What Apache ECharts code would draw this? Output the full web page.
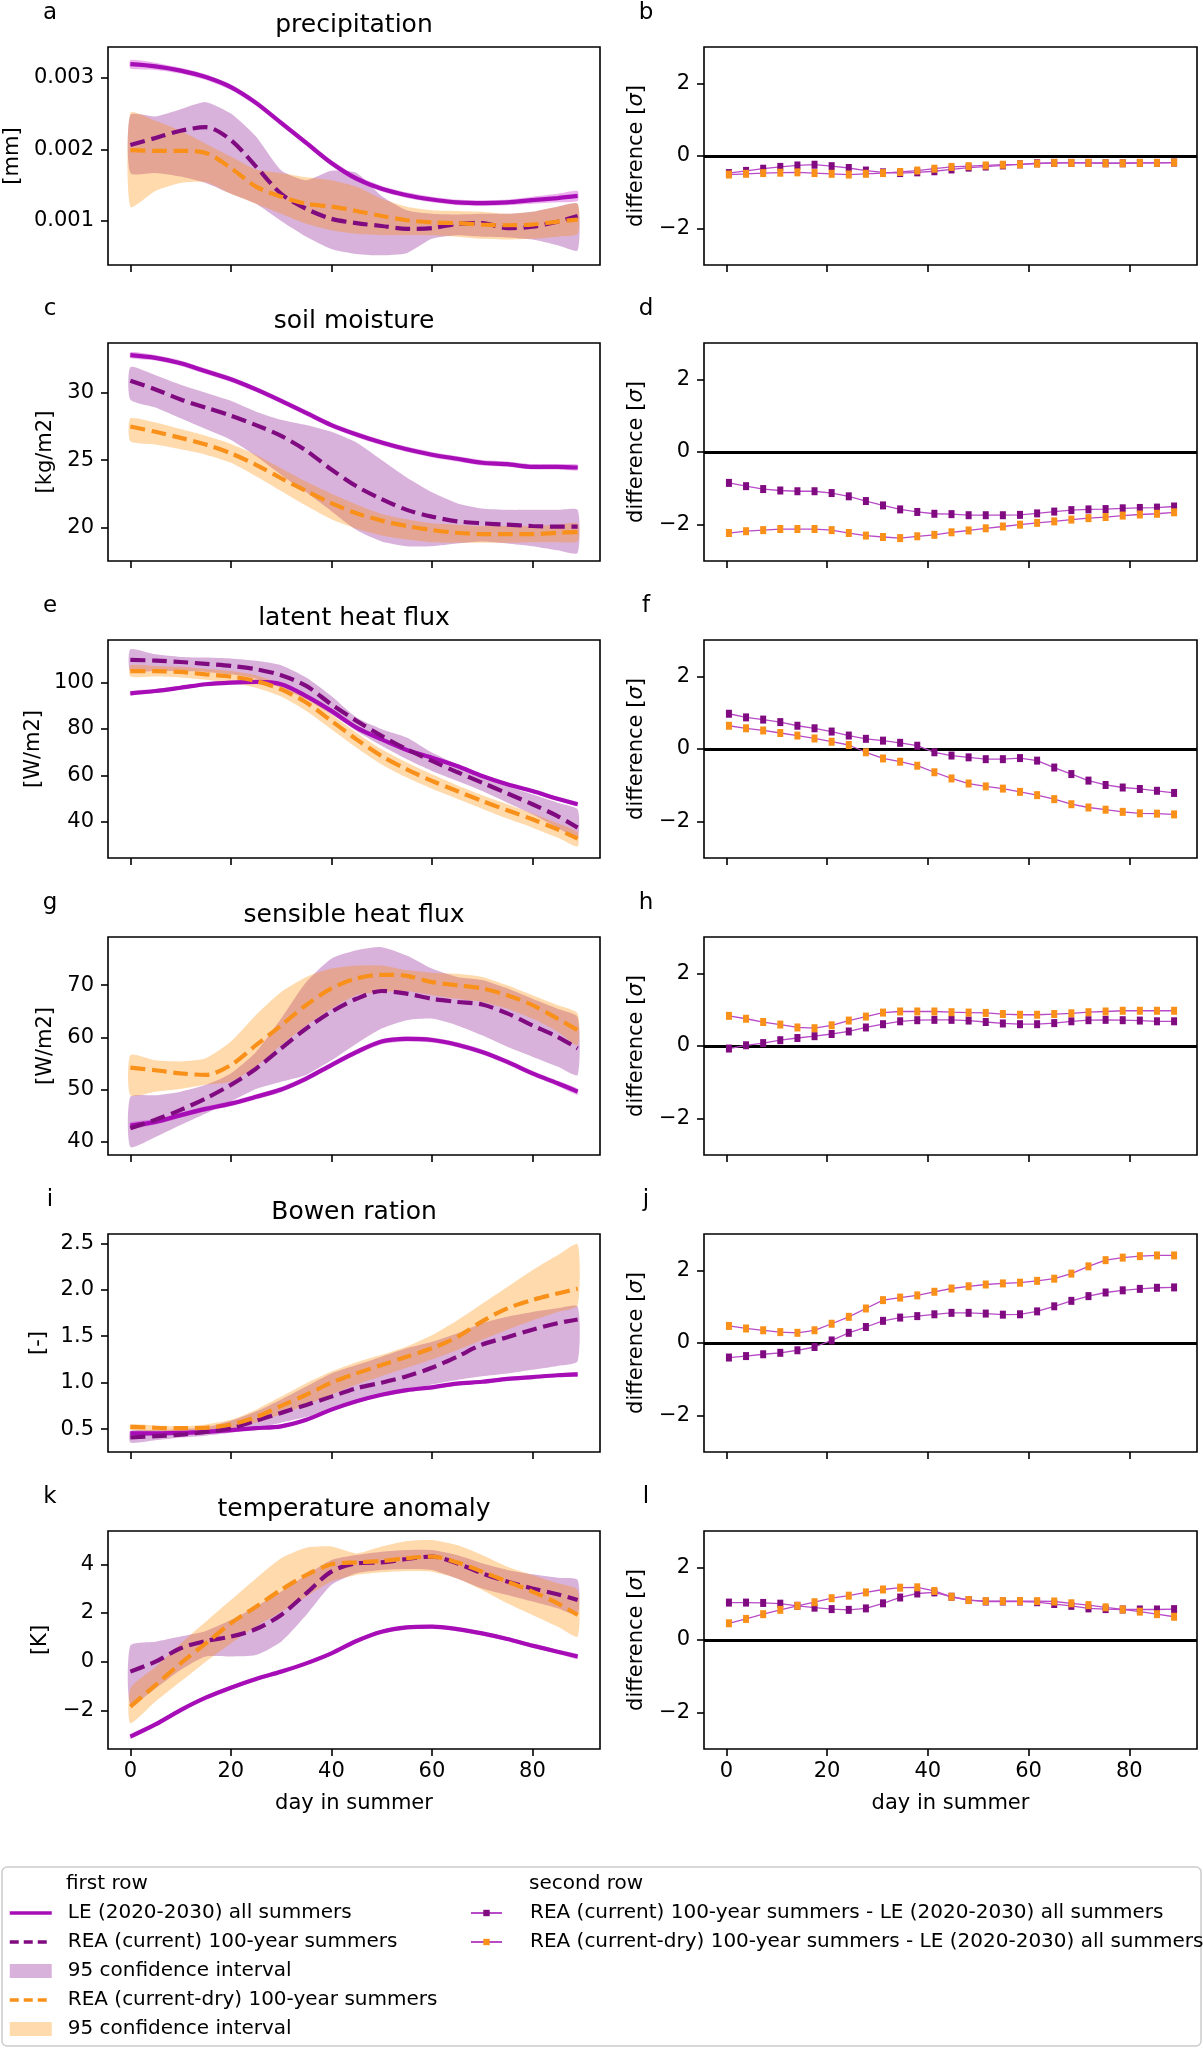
<!DOCTYPE html>
<html><head><meta charset="utf-8">
<script src="https://cdn.jsdelivr.net/npm/echarts@6/dist/echarts.min.js"></script>
<style>html,body{margin:0;padding:0;background:#fff}#c{width:1203px;height:2048px}</style>
</head><body><div id="c"></div>
<script>
// ---------------- data ----------------
const DAYS = [0,5,10,15,20,25,30,35,40,45,50,55,60,65,70,75,80,85,89];
const DIFF_DAYS = [0.5,3.9,7.3,10.7,14.1,17.5,20.9,24.3,27.7,31.1,34.5,37.9,41.3,44.7,48.1,51.5,54.9,58.3,61.7,65.1,68.5,71.9,75.3,78.7,82.1,85.5,88.9];
const X_TICKS = [0,20,40,60,80];
const DIFF_TICKS = [-2,0,2];

const TITLES = ['precipitation','soil moisture','latent heat flux','sensible heat flux','Bowen ration','temperature anomaly'];
const UNITS = ['[mm]','[kg/m2]','[W/m2]','[W/m2]','[-]','[K]'];
const LETTERS_LEFT = ['a','c','e','g','i','k'];
const LETTERS_RIGHT = ['b','d','f','h','j','l'];
const Y_TICKS = [[0.001,0.002,0.003],[20,25,30],[40,60,80,100],[40,50,60,70],[0.5,1.0,1.5,2.0,2.5],[-2,0,2,4]];
const Y_MIN = [0.000385,17.5,24.3,37.45,0.254,-3.59];
const Y_MAX = [0.00343,33.7,118.4,79.25,2.6,5.37];

const precipLE = [0.00319,0.00316,0.0031,0.00301,0.00287,0.00265,0.00237,0.00209,0.00181,0.00159,0.00145,0.00136,0.0013,0.00126,0.00125,0.00126,0.00129,0.00132,0.00135];
const precipLEspread = [0.00006,0.00005,0.00004,0.00004,0.00004,0.00004,0.00004,0.00004,0.00004,0.00004,0.00004,0.00004,0.00004,0.00004,0.00004,0.00004,0.00005,0.00006,0.00007];
const precipCur = [0.00206,0.00216,0.00226,0.00231,0.00213,0.00176,0.00138,0.00117,0.00103,0.00097,0.00093,0.00089,0.0009,0.00096,0.00097,0.0009,0.00092,0.00099,0.00107];
const precipCurLo = [0.00167,0.00167,0.00162,0.00153,0.00138,0.00124,0.001,0.00078,0.00061,0.00054,0.00052,0.00055,0.00075,0.0008,0.00078,0.00077,0.00074,0.00066,0.00059];
const precipCurHi = [0.00248,0.00246,0.00256,0.00266,0.0025,0.00218,0.00171,0.00157,0.0017,0.00167,0.00135,0.00115,0.0011,0.00109,0.0011,0.0011,0.00113,0.0012,0.00124];
const precipDry = [0.00199,0.00198,0.00198,0.00195,0.00174,0.00148,0.00134,0.00124,0.0012,0.00114,0.00107,0.00101,0.00098,0.00097,0.00095,0.00094,0.00095,0.00099,0.00102];
const precipDryLo = [0.0012,0.00142,0.00153,0.00154,0.00138,0.00124,0.0011,0.00096,0.00087,0.00082,0.0008,0.0008,0.0008,0.00078,0.00075,0.00074,0.00075,0.00078,0.00082];
const precipDryHi = [0.00251,0.0024,0.00226,0.00208,0.0019,0.00172,0.00167,0.00161,0.00157,0.00148,0.00131,0.0012,0.00115,0.00114,0.00113,0.0011,0.00113,0.0012,0.00124];
const precipDiffCur = [-0.47,-0.41,-0.35,-0.30,-0.26,-0.24,-0.28,-0.33,-0.40,-0.45,-0.47,-0.45,-0.42,-0.37,-0.32,-0.29,-0.26,-0.23,-0.20,-0.19,-0.19,-0.19,-0.20,-0.20,-0.19,-0.19,-0.18];
const precipDiffDry = [-0.51,-0.49,-0.47,-0.46,-0.45,-0.47,-0.49,-0.51,-0.49,-0.47,-0.44,-0.40,-0.35,-0.30,-0.28,-0.26,-0.24,-0.23,-0.21,-0.19,-0.19,-0.19,-0.20,-0.20,-0.19,-0.19,-0.18];

const soilLE = [32.8,32.6,32.2,31.6,31.0,30.25,29.4,28.5,27.6,26.9,26.3,25.8,25.4,25.1,24.8,24.7,24.5,24.5,24.45];
const soilLEspread = [0.22,0.2,0.2,0.2,0.2,0.2,0.2,0.2,0.2,0.2,0.2,0.2,0.2,0.2,0.2,0.2,0.2,0.2,0.22];
const soilCur = [30.9,30.25,29.5,28.9,28.3,27.6,26.8,25.7,24.3,23.05,22.1,21.3,20.8,20.45,20.3,20.2,20.1,20.05,20.05];
const soilCurLo = [29.5,28.9,28.1,27.3,26.5,25.3,23.9,22.6,21.2,19.8,18.95,18.6,18.6,18.8,18.95,18.8,18.6,18.3,18.1];
const soilCurHi = [31.9,31.3,30.6,30.0,29.4,28.6,28.0,27.6,27.1,26.3,25.0,23.7,22.6,21.8,21.4,21.3,21.3,21.3,21.3];
const soilDry = [27.5,27.1,26.65,26.15,25.5,24.65,23.65,22.7,21.8,21.05,20.5,20.1,19.8,19.6,19.5,19.5,19.5,19.6,19.65];
const soilDryLo = [26.4,26.15,25.8,25.4,24.8,23.8,22.7,21.6,20.6,19.9,19.4,19.1,18.9,18.85,18.85,18.85,18.9,18.9,18.95];
const soilDryHi = [28.1,27.8,27.3,26.8,26.2,25.4,24.4,23.4,22.5,21.7,21.0,20.6,20.3,20.2,20.1,20.1,20.1,20.2,20.3];
const soilDiffCur = [-0.85,-0.94,-1.02,-1.06,-1.08,-1.08,-1.13,-1.22,-1.35,-1.47,-1.58,-1.65,-1.70,-1.71,-1.74,-1.74,-1.74,-1.73,-1.69,-1.64,-1.60,-1.58,-1.57,-1.55,-1.54,-1.53,-1.50];
const soilDiffDry = [-2.23,-2.18,-2.15,-2.12,-2.12,-2.12,-2.15,-2.23,-2.30,-2.34,-2.37,-2.32,-2.28,-2.21,-2.16,-2.10,-2.05,-2.00,-1.95,-1.91,-1.86,-1.82,-1.79,-1.75,-1.72,-1.70,-1.66];

const latLE = [95.4,96.4,97.8,99.3,100,100.3,99.3,94.2,87.8,80.6,75.5,70.9,67.6,64.0,59.7,56.1,53.2,49.9,47.5];
const latLEspread = [0.9,0.8,0.8,0.8,0.8,0.8,0.8,0.8,0.8,0.8,0.8,0.8,0.8,0.8,0.8,0.8,0.8,0.8,0.9];
const latCur = [109.8,109.5,108.9,108.1,107.2,105.8,103.2,98.6,90.6,83.5,77.0,71.2,66.2,61.4,56.8,52.2,47.5,42.4,37.4];
const latCurLo = [105,105,105,104.6,103.6,101.7,97.8,92.8,86.3,79.1,72.7,66.9,61.9,57.6,53.2,48.2,43.2,37.4,33.1];
const latCurHi = [114.4,112.2,111.1,110.8,110.4,109.4,107.5,102.2,94.2,84.9,79.9,76.3,69.8,64.7,59.7,55.4,51.8,48.2,45.3];
const latDry = [105,105,104.6,103.6,102.6,100.7,97.1,91.4,83.5,75.5,68.3,62.6,57.6,53.2,48.9,44.9,41.0,36.7,32.7];
const latDryLo = [102.6,102.6,102.2,101.2,100,97.8,94,87.8,79.9,71.9,64.7,59,54.2,49.9,45.6,41.3,37.4,33.1,29.2];
const latDryHi = [107.5,107.2,106.8,106,105,103.2,99.6,94,86.3,78.4,71.2,65.5,60.4,55.7,51.4,47.5,43.5,39.3,35.5];
const latDiffCur = [0.97,0.87,0.81,0.74,0.64,0.57,0.48,0.37,0.28,0.23,0.17,0.09,-0.09,-0.18,-0.23,-0.28,-0.28,-0.25,-0.32,-0.51,-0.69,-0.87,-0.99,-1.06,-1.10,-1.15,-1.21];
const latDiffDry = [0.64,0.57,0.51,0.44,0.37,0.29,0.20,0.11,-0.09,-0.26,-0.35,-0.46,-0.64,-0.81,-0.95,-1.03,-1.09,-1.18,-1.27,-1.38,-1.52,-1.61,-1.67,-1.73,-1.77,-1.78,-1.80];

const sensLE = [43.1,43.8,45.1,46.3,47.3,48.6,50.0,52.1,54.7,57.2,59.2,59.7,59.5,58.6,57.2,55.3,53.1,51.2,49.6];
const sensLEspread = [0.6,0.5,0.5,0.5,0.5,0.5,0.5,0.5,0.5,0.5,0.5,0.5,0.5,0.5,0.5,0.5,0.5,0.5,0.6];
const sensCur = [42.6,44.2,46.1,48.3,50.9,54.0,57.9,61.7,64.9,67.4,68.9,68.4,67.4,66.8,66.3,64.6,62.3,60.1,57.9];
const sensCurLo = [39.0,40.9,43.2,45.4,47.7,50.1,51.5,52.8,55.6,58.8,61.7,63.3,63.6,62.3,60.4,58.2,56.3,54.4,52.8];
const sensCurHi = [48.6,48.9,49.6,50.9,53.1,57.2,63.6,70.6,75.1,76.7,77.3,75.7,73.2,71.6,71.0,69.4,67.4,65.5,63.9];
const sensDry = [54.2,53.7,53.1,52.8,54.7,58.5,62.3,66.2,69.4,71.3,72.0,71.8,70.6,70.0,69.4,68.1,66.2,63.6,61.4];
const sensDryLo = [48.9,49.6,50.1,50.9,51.5,54.4,58.5,62.3,65.5,68.1,68.7,68.9,68.1,67.4,66.8,65.5,63.6,61.1,58.5];
const sensDryHi = [56.6,55.6,55.4,56.0,59.2,64.3,68.7,71.6,73.2,73.8,73.8,72.9,72.4,72.2,71.6,70.0,68.1,66.2,64.6];
const sensDiffCur = [-0.07,0.02,0.08,0.16,0.22,0.27,0.33,0.40,0.51,0.60,0.68,0.71,0.72,0.72,0.70,0.66,0.62,0.60,0.60,0.63,0.68,0.71,0.72,0.71,0.70,0.68,0.68];
const sensDiffDry = [0.83,0.75,0.66,0.59,0.51,0.49,0.57,0.70,0.81,0.92,0.95,0.95,0.95,0.93,0.92,0.91,0.88,0.86,0.86,0.88,0.90,0.93,0.95,0.97,0.97,0.97,0.97];

const bowLE = [0.454,0.454,0.46,0.47,0.49,0.51,0.53,0.60,0.71,0.80,0.87,0.92,0.95,0.99,1.01,1.04,1.06,1.08,1.09];
const bowLEspread = [0.025,0.02,0.02,0.02,0.02,0.02,0.02,0.02,0.02,0.02,0.02,0.02,0.02,0.02,0.02,0.02,0.02,0.02,0.025];
const bowCur = [0.41,0.425,0.44,0.47,0.51,0.59,0.675,0.76,0.85,0.94,1.0,1.07,1.16,1.28,1.41,1.49,1.57,1.64,1.68];
const bowCurLo = [0.355,0.38,0.41,0.43,0.46,0.51,0.57,0.63,0.71,0.80,0.87,0.92,0.98,1.03,1.07,1.10,1.14,1.18,1.23];
const bowCurHi = [0.48,0.49,0.50,0.52,0.59,0.69,0.82,0.96,1.10,1.19,1.28,1.37,1.44,1.53,1.64,1.71,1.76,1.80,1.82];
const bowDry = [0.525,0.515,0.51,0.515,0.55,0.63,0.75,0.87,1.0,1.10,1.19,1.28,1.37,1.49,1.66,1.80,1.89,1.96,2.01];
const bowDryLo = [0.49,0.48,0.48,0.49,0.51,0.57,0.66,0.76,0.87,0.98,1.07,1.16,1.25,1.35,1.46,1.57,1.67,1.76,1.83];
const bowDryHi = [0.55,0.54,0.53,0.55,0.60,0.71,0.85,0.995,1.12,1.22,1.30,1.39,1.51,1.67,1.85,2.03,2.21,2.37,2.49];
const bowDiffCur = [-0.40,-0.36,-0.31,-0.27,-0.20,-0.11,0.07,0.28,0.44,0.61,0.70,0.74,0.79,0.83,0.83,0.81,0.78,0.79,0.87,1.01,1.16,1.29,1.39,1.45,1.49,1.52,1.53];
const bowDiffDry = [0.47,0.40,0.35,0.30,0.28,0.35,0.53,0.72,0.95,1.18,1.25,1.31,1.41,1.50,1.56,1.61,1.64,1.66,1.71,1.77,1.91,2.11,2.28,2.35,2.39,2.41,2.41];

const tempLE = [-3.08,-2.58,-1.99,-1.48,-1.07,-0.71,-0.41,-0.07,0.34,0.85,1.23,1.41,1.44,1.34,1.16,0.93,0.66,0.41,0.21];
const tempLEspread = [0.1,0.08,0.08,0.08,0.08,0.08,0.08,0.08,0.08,0.08,0.08,0.08,0.08,0.08,0.08,0.08,0.08,0.08,0.1];
const tempCur = [-0.41,0,0.55,0.85,1.03,1.34,1.92,2.81,3.70,4.04,4.08,4.22,4.32,4.04,3.63,3.29,3.01,2.77,2.53];
const tempCurLo = [-1.78,-1.10,-0.34,0.21,0.21,0.27,0.82,1.92,3.15,3.63,3.77,3.81,3.77,3.42,3.01,2.74,2.47,2.19,1.92];
const tempCurHi = [0.66,0.82,1.03,1.26,1.71,2.26,2.88,3.56,4.18,4.38,4.52,4.59,4.59,4.38,4.04,3.77,3.59,3.45,3.36];
const tempDry = [-1.85,-0.96,-0.07,0.75,1.58,2.26,2.95,3.56,4.0,4.08,4.14,4.25,4.32,4.08,3.70,3.29,2.88,2.40,1.92];
const tempDryLo = [-2.53,-1.64,-0.82,0,0.75,1.44,2.05,2.67,3.29,3.56,3.67,3.73,3.70,3.42,2.95,2.40,1.92,1.44,1.03];
const tempDryHi = [-1.10,-0.21,0.75,1.64,2.53,3.42,4.25,4.68,4.73,4.45,4.73,4.96,5.0,4.79,4.38,3.90,3.56,3.22,2.95];
const tempDiffCur = [1.03,1.03,1.02,1.00,0.94,0.89,0.85,0.83,0.87,1.01,1.17,1.28,1.31,1.19,1.10,1.06,1.06,1.06,1.04,0.99,0.94,0.87,0.85,0.84,0.84,0.84,0.85];
const tempDiffDry = [0.46,0.58,0.71,0.83,0.94,1.04,1.15,1.22,1.31,1.39,1.44,1.45,1.35,1.19,1.10,1.07,1.07,1.07,1.07,1.06,1.01,0.96,0.90,0.84,0.78,0.71,0.64];

const NAME_LE = 'LE (2020-2030) all summers';
const NAME_CUR = 'REA (current) 100-year summers';
const NAME_CI_CUR = '95 confidence interval';
const NAME_DRY = 'REA (current-dry) 100-year summers';
const NAME_CI_DRY = '95 confidence interval (dry)';
const NAME_DIFF_CUR = 'REA (current) 100-year summers - LE (2020-2030) all summers';
const NAME_DIFF_DRY = 'REA (current-dry) 100-year summers - LE (2020-2030) all summers';

// ---------------- layout / styles ----------------
const FONT = 'DejaVu Sans';
const GRID_TOPS = [47,343,640,937,1234,1531];
const GRID_H = 218;
const LEFT_X = 108, LEFT_W = 492, RIGHT_X = 704, RIGHT_W = 493;
const YNAME_GAP = [85,52,64,52,59,57];
const C_LE = '#a60db6', C_LE_BAND = 'rgba(192,0,200,0.30)';
const C_CUR = '#800a80', C_CUR_BAND = 'rgba(128,0,140,0.30)';
const C_DRY = '#f8901a', C_DRY_BAND = 'rgba(255,140,0,0.32)';
const C_DIFF_LINE = '#b84ac8';
const DASH = [15, 6.5];

const PANELS = [
  {le:precipLE, sp:precipLEspread, cur:precipCur, curLo:precipCurLo, curHi:precipCurHi, dry:precipDry, dryLo:precipDryLo, dryHi:precipDryHi, dc:precipDiffCur, dd:precipDiffDry},
  {le:soilLE, sp:soilLEspread, cur:soilCur, curLo:soilCurLo, curHi:soilCurHi, dry:soilDry, dryLo:soilDryLo, dryHi:soilDryHi, dc:soilDiffCur, dd:soilDiffDry},
  {le:latLE, sp:latLEspread, cur:latCur, curLo:latCurLo, curHi:latCurHi, dry:latDry, dryLo:latDryLo, dryHi:latDryHi, dc:latDiffCur, dd:latDiffDry},
  {le:sensLE, sp:sensLEspread, cur:sensCur, curLo:sensCurLo, curHi:sensCurHi, dry:sensDry, dryLo:sensDryLo, dryHi:sensDryHi, dc:sensDiffCur, dd:sensDiffDry},
  {le:bowLE, sp:bowLEspread, cur:bowCur, curLo:bowCurLo, curHi:bowCurHi, dry:bowDry, dryLo:bowDryLo, dryHi:bowDryHi, dc:bowDiffCur, dd:bowDiffDry},
  {le:tempLE, sp:tempLEspread, cur:tempCur, curLo:tempCurLo, curHi:tempCurHi, dry:tempDry, dryLo:tempDryLo, dryHi:tempDryHi, dc:tempDiffCur, dd:tempDiffDry}
];

const minus = s => String(s).replace('-', '\u2212');
const Y_FMT = [
  v => v.toFixed(3), v => String(v), v => String(v), v => String(v), v => v.toFixed(1), v => minus(v)
];

const grids = [], xAxes = [], yAxes = [], series = [], graphics = [];

function bandSeries(gi, lo, hi, color, name) {
  return {
    type: 'custom', name, xAxisIndex: gi, yAxisIndex: gi, z: 1, silent: true,
    itemStyle: {color},
    data: DAYS.map((d, i) => [d, lo[i], hi[i]]),
    encode: {x: 0, y: [1, 2]},
    renderItem: (params, api) => {
      if (params.dataIndex !== 0) return null;
      const pts = [];
      for (let i = 0; i < DAYS.length; i++) pts.push(api.coord([DAYS[i], hi[i]]));
      for (let i = DAYS.length - 1; i >= 0; i--) pts.push(api.coord([DAYS[i], lo[i]]));
      return {type: 'polygon', shape: {points: pts, smooth: 0.2}, style: {fill: color, stroke: null}};
    }
  };
}

const lastRow = PANELS.length - 1;
PANELS.forEach((p, r) => {
  const top = GRID_TOPS[r];
  const gl = 2 * r, gr = 2 * r + 1;
  const bottom = r === lastRow;
  grids.push({left: LEFT_X, top, width: LEFT_W, height: GRID_H, show: true, borderColor: '#000', borderWidth: 1.6, containLabel: false});
  grids.push({left: RIGHT_X, top, width: RIGHT_W, height: GRID_H, show: true, borderColor: '#000', borderWidth: 1.6, containLabel: false});
  [gl, gr].forEach(g => {
    xAxes.push({
      type: 'value', gridIndex: g, min: -4.45, max: 93.45, position: 'bottom',
      axisLine: {show: false, onZero: false}, splitLine: {show: false},
      axisTick: {show: true, length: 7, customValues: X_TICKS, lineStyle: {color: '#000', width: 1.6}},
      axisLabel: {show: bottom, customValues: X_TICKS, margin: 12, color: '#000', fontSize: 21, fontFamily: FONT},
      name: bottom ? 'day in summer' : '', nameLocation: 'middle', nameGap: 44,
      nameTextStyle: {color: '#000', fontSize: 21, fontFamily: FONT}
    });
  });
  yAxes.push({
    type: 'value', gridIndex: gl, min: Y_MIN[r], max: Y_MAX[r], position: 'left',
    axisLine: {show: false, onZero: false}, splitLine: {show: false},
    axisTick: {show: true, length: 7, customValues: Y_TICKS[r], lineStyle: {color: '#000', width: 1.6}},
    axisLabel: {customValues: Y_TICKS[r], formatter: Y_FMT[r], margin: 14, color: '#000', fontSize: 21, fontFamily: FONT},
    name: UNITS[r], nameLocation: 'middle', nameGap: YNAME_GAP[r], nameRotate: 90,
    nameTextStyle: {color: '#000', fontSize: 21, fontFamily: FONT}
  });
  yAxes.push({
    type: 'value', gridIndex: gr, min: -3, max: 3, position: 'left',
    axisLine: {show: false, onZero: false}, splitLine: {show: false},
    axisTick: {show: true, length: 7, customValues: DIFF_TICKS, lineStyle: {color: '#000', width: 1.6}},
    axisLabel: {customValues: DIFF_TICKS, formatter: v => minus(v), margin: 14, color: '#000', fontSize: 21, fontFamily: FONT},
    name: 'difference [{i|σ}]', nameLocation: 'middle', nameGap: 57, nameRotate: 90,
    nameTextStyle: {color: '#000', fontSize: 21, fontFamily: FONT, rich: {i: {fontStyle: 'italic', fontSize: 21, fontFamily: FONT, color: '#000'}}}
  });

  // confidence bands
  series.push(bandSeries(gl, p.curLo, p.curHi, C_CUR_BAND, NAME_CI_CUR));
  series.push(bandSeries(gl, p.dryLo, p.dryHi, C_DRY_BAND, NAME_CI_DRY));
  series.push(bandSeries(gl, p.le.map((v, i) => v - p.sp[i]), p.le.map((v, i) => v + p.sp[i]), C_LE_BAND, 'LE spread'));
  // mean lines
  series.push({type: 'line', name: NAME_LE, xAxisIndex: gl, yAxisIndex: gl, z: 3, smooth: 0.3, symbol: 'none', silent: true,
    itemStyle: {color: C_LE}, lineStyle: {color: C_LE, width: 4.2},
    data: DAYS.map((d, i) => [d, p.le[i]])});
  series.push({type: 'line', name: NAME_CUR, xAxisIndex: gl, yAxisIndex: gl, z: 3, smooth: 0.3, symbol: 'none', silent: true,
    itemStyle: {color: C_CUR}, lineStyle: {color: C_CUR, width: 4.2, type: DASH},
    data: DAYS.map((d, i) => [d, p.cur[i]])});
  series.push({type: 'line', name: NAME_DRY, xAxisIndex: gl, yAxisIndex: gl, z: 3, smooth: 0.3, symbol: 'none', silent: true,
    itemStyle: {color: C_DRY}, lineStyle: {color: C_DRY, width: 4.2, type: DASH},
    data: DAYS.map((d, i) => [d, p.dry[i]])});
  // differences
  series.push({type: 'line', name: NAME_DIFF_CUR, xAxisIndex: gr, yAxisIndex: gr, z: 3, symbol: 'rect', symbolSize: [6, 8], silent: true,
    itemStyle: {color: C_CUR}, lineStyle: {color: C_DIFF_LINE, width: 1.3},
    data: DIFF_DAYS.map((d, i) => [d, p.dc[i]]),
    markLine: {silent: true, symbol: 'none', label: {show: false}, lineStyle: {color: '#000', width: 3.2, type: 'solid'}, data: [{yAxis: 0}], z: 2}});
  series.push({type: 'line', name: NAME_DIFF_DRY, xAxisIndex: gr, yAxisIndex: gr, z: 4, symbol: 'rect', symbolSize: [6, 8], silent: true,
    itemStyle: {color: C_DRY}, lineStyle: {color: C_DIFF_LINE, width: 1.3},
    data: DIFF_DAYS.map((d, i) => [d, p.dd[i]])});

  // titles and panel letters
  const tstyle = (text, size, align) => ({text, fontSize: size, fontFamily: FONT, fill: '#000', textAlign: align, textVerticalAlign: 'middle', align, verticalAlign: 'middle'});
  graphics.push({type: 'text', x: LEFT_X + LEFT_W / 2, y: top - 22, style: tstyle(TITLES[r], 25, 'center')});
  graphics.push({type: 'text', x: 50, y: top - 34, style: tstyle(LETTERS_LEFT[r], 23, 'center')});
  graphics.push({type: 'text', x: 646, y: top - 34, style: tstyle(LETTERS_RIGHT[r], 23, 'center')});
});

// legend frame + headers
graphics.push({type: 'rect', z: 0, shape: {x: 2, y: 1867, width: 1199, height: 179, r: 5}, style: {fill: '#fff', stroke: '#cccccc', lineWidth: 1.5}});
graphics.push({type: 'text', z: 5, x: 66, y: 1884, style: {text: 'first row', fontSize: 20, fontFamily: FONT, fill: '#000', textAlign: 'left', textVerticalAlign: 'middle', align: 'left', verticalAlign: 'middle'}});
graphics.push({type: 'text', z: 5, x: 529, y: 1884, style: {text: 'second row', fontSize: 20, fontFamily: FONT, fill: '#000', textAlign: 'left', textVerticalAlign: 'middle', align: 'left', verticalAlign: 'middle'}});

const legendText = {color: '#000', fontSize: 20, fontFamily: FONT, padding: [0, 0, 0, 11]};
const option = {
  animation: false,
  backgroundColor: '#fff',
  textStyle: {fontFamily: FONT},
  grid: grids, xAxis: xAxes, yAxis: yAxes, series,
  graphic: {elements: graphics},
  legend: [
    {
      orient: 'vertical', left: 8, top: 1903, itemWidth: 42, itemHeight: 14, itemGap: 9, padding: 0,
      selectedMode: false, textStyle: legendText,
      formatter: n => n.replace(' (dry)', ''),
      data: [
        {name: NAME_LE, itemStyle: {opacity: 0}, lineStyle: {width: 3.5}},
        {name: NAME_CUR, itemStyle: {opacity: 0}, lineStyle: {width: 3.5, type: [9, 5]}},
        {name: NAME_CI_CUR, icon: 'rect', itemStyle: {color: C_CUR_BAND}},
        {name: NAME_DRY, itemStyle: {opacity: 0}, lineStyle: {width: 3.5, type: [9, 5]}},
        {name: NAME_CI_DRY, icon: 'rect', itemStyle: {color: C_DRY_BAND}}
      ]
    },
    {
      orient: 'vertical', left: 470, top: 1903, itemWidth: 31, itemHeight: 8, itemGap: 9, padding: 0,
      selectedMode: false, textStyle: {color: '#000', fontSize: 20, fontFamily: FONT, padding: [0, 0, 0, 23]},
      data: [{name: NAME_DIFF_CUR}, {name: NAME_DIFF_DRY}]
    }
  ]
};

const chart = echarts.init(document.getElementById('c'), null, {renderer: 'canvas', width: 1203, height: 2048});
chart.setOption(option);
</script>
</body></html>
